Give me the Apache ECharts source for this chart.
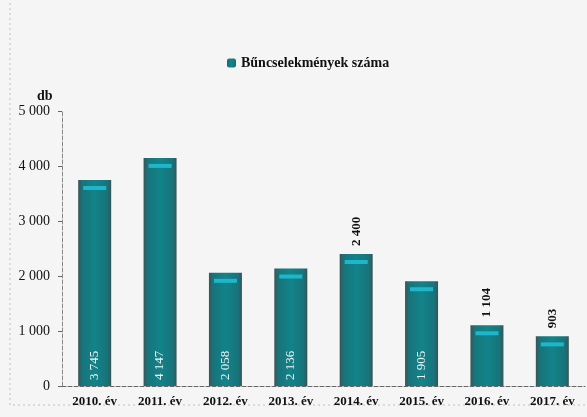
<!DOCTYPE html>
<html>
<head>
<meta charset="utf-8">
<script src="https://cdn.jsdelivr.net/npm/echarts@6/dist/echarts.min.js"></script>
<style>
  html, body { margin: 0; padding: 0; background: #f4f5f4; }
  #main { width: 587px; height: 417px; }
</style>
</head>
<body>
<div id="main"></div>
<script>
// adatok
const categories = ["2010. év", "2011. év", "2012. év", "2013. év", "2014. év", "2015. év", "2016. év", "2017. év"];
const values = [3745, 4147, 2058, 2136, 2400, 1905, 1104, 903];
const labelOutside = [false, false, false, false, true, false, true, true];
const yTicks = [0, 1000, 2000, 3000, 4000, 5000];

const fmt = (v) => String(v).replace(/\B(?=(\d{3})+(?!\d))/g, " ");
const serif = "'Liberation Serif', 'DejaVu Serif', serif";

var myChart = echarts.init(document.getElementById("main"));

const barData = values.map((v, i) => ({
  value: v,
  label: labelOutside[i]
    ? { position: "top", rotate: 90, align: "left", verticalAlign: "middle", distance: 8,
        color: "#111", fontWeight: "bold", fontSize: 13 }
    : { position: "insideBottom", rotate: 90, align: "left", verticalAlign: "middle", distance: 6,
        color: "#f4f4f4", fontSize: 13 }
}));

var option = {
  backgroundColor: "#f4f5f4",
  textStyle: { fontFamily: serif },
  legend: {
    top: 51,
    left: 222,
    itemWidth: 9,
    itemHeight: 9,
    itemGap: 4,
    icon: "roundRect",
    textStyle: { fontFamily: serif, fontWeight: "bold", fontSize: 14, color: "#111" },
    data: ["Bűncselekmények száma"]
  },
  grid: { left: 62, right: 2, top: 111, bottom: 31 },
  graphic: [
    { type: "text", left: 37, top: 89,
      style: { text: "db", font: "bold 14px " + serif, fill: "#111" } },
    { type: "rect", shape: { x: 10, y: -5, width: 590, height: 410 },
      style: { fill: "none", stroke: "#b8c4c8", lineWidth: 1, lineDash: [2, 3] }, silent: true }
  ],
  xAxis: {
    type: "category",
    data: categories,
    axisLine: { lineStyle: { color: "#666", type: "dashed", width: 1 } },
    axisTick: { show: false },
    axisLabel: { fontFamily: serif, fontWeight: "bold", fontSize: 13, color: "#111", margin: 9, interval: 0 }
  },
  yAxis: {
    type: "value",
    min: 0,
    max: 5000,
    interval: 1000,
    axisLine: { show: true, lineStyle: { color: "#888", type: "dashed", width: 1 } },
    axisTick: { show: true, length: 4, lineStyle: { color: "#666" } },
    splitLine: { show: false },
    axisLabel: {
      fontFamily: serif, fontSize: 14, color: "#111", margin: 12,
      formatter: (v) => (yTicks.includes(v) ? fmt(v) : "")
    }
  },
  series: [
    {
      name: "Bűncselekmények száma",
      type: "bar",
      barWidth: 33,
      data: barData,
      itemStyle: {
        color: new echarts.graphic.LinearGradient(0, 0, 1, 0, [
          { offset: 0, color: "#3a5456" },
          { offset: 0.12, color: "#17747a" },
          { offset: 0.5, color: "#12838a" },
          { offset: 0.88, color: "#17747a" },
          { offset: 1, color: "#3a5456" }
        ])
      },
      label: { show: true, fontFamily: serif, formatter: (p) => fmt(p.value) }
    },
    {
      name: "highlight",
      type: "pictorialBar",
      data: values,
      symbol: "rect",
      symbolSize: [23, 4],
      symbolPosition: "end",
      symbolOffset: [0, 6],
      itemStyle: { color: "#1fb6cc" },
      z: 3,
      silent: true
    }
  ]
};

option && myChart.setOption(option);
</script>
</body>
</html>
